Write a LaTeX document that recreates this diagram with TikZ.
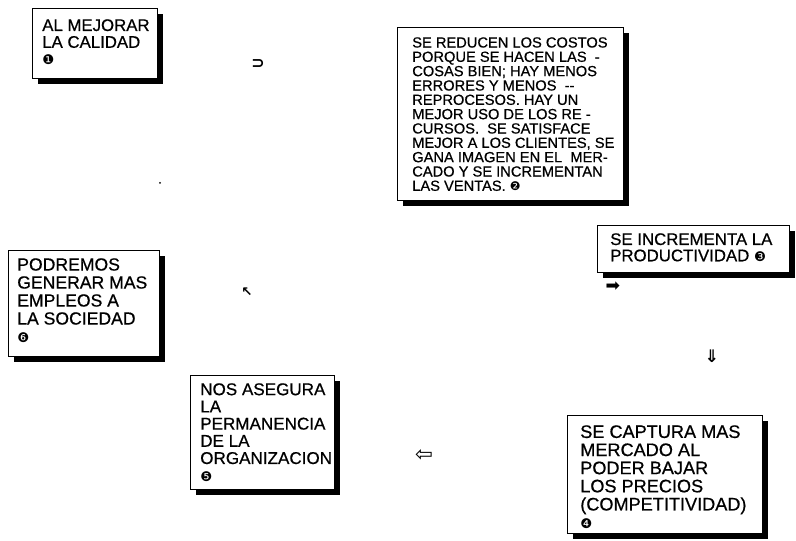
\documentclass[tikz,border=0pt]{standalone}
\usepackage{fontspec}
\setmainfont[FakeBold=0.6]{Liberation Sans}
\newfontfamily\dingfont{DejaVu Sans}
\usetikzlibrary{shadows}
\begin{document}
\begin{tikzpicture}[x=0.75pt,y=-0.75pt,
  card/.style={draw=black, line width=1pt, fill=white, anchor=north west, inner sep=0pt,
    drop shadow={shadow xshift=4pt, shadow yshift=-4pt, fill=black, opacity=1}},
  bigtext/.style={anchor=north west, inner sep=0pt, align=left, font=\fontsize{13.2}{13.5}\selectfont},
  smalltext/.style={anchor=north west, inner sep=0pt, align=left, font=\fontsize{11}{10.75}\selectfont},
  glyph/.style={inner sep=0pt, font=\dingfont\fontsize{12}{12}\selectfont}
]
\useasboundingbox (0,0) rectangle (796,541);
\fill[white] (0,0) rectangle (796,541);

% boxes
\node[card, minimum width=93.75pt, minimum height=52.5pt] (b1) at (32,8) {};
\node[card, minimum width=169.5pt, minimum height=129.75pt] (b2) at (397,27) {};
\node[card, minimum width=144pt, minimum height=35pt] (b3) at (597,225) {};
\node[card, minimum width=113.25pt, minimum height=79.5pt] (b4) at (8,250) {};
\node[card, minimum width=108pt, minimum height=85.5pt] (b5) at (190,375) {};
\node[card, minimum width=146.25pt, minimum height=88.5pt] (b6) at (567,415) {};

% texts
\node[bigtext, font=\fontsize{12.6}{12.6}\selectfont] (t1) at (42,19) {AL MEJORAR\\LA CALIDAD\\{\dingfont\fontsize{10}{10}\selectfont ❶}};
\node[smalltext] (t2) at (412,37) {SE REDUCEN LOS COSTOS\\PORQUE SE HACEN LAS \ -\\COSAS BIEN; HAY MENOS\\ERRORES Y MENOS \ -{}-\\REPROCESOS. HAY UN\\MEJOR USO DE LOS RE -\\CURSOS. \ SE SATISFACE\\MEJOR A LOS CLIENTES, SE\\GANA IMAGEN EN EL \ MER-\\CADO Y SE INCREMENTAN\\LAS VENTAS. {\dingfont\fontsize{9}{9}\selectfont ❷}};
\node[bigtext, font=\fontsize{12.6}{12.2}\selectfont] (t3) at (610,233) {SE INCREMENTA LA\\PRODUCTIVIDAD {\dingfont\fontsize{10}{10}\selectfont ❸}};
\node[bigtext] (t4) at (17,258) {PODREMOS\\GENERAR MAS\\EMPLEOS A\\LA SOCIEDAD\\{\dingfont\fontsize{10}{10}\selectfont ❻}};
\node[bigtext, font=\fontsize{12.8}{12.9}\selectfont] (t5) at (200,383) {NOS ASEGURA\\LA\\PERMANENCIA\\DE LA\\ORGANIZACION\\{\dingfont\fontsize{10}{10}\selectfont ❺}};
\node[bigtext, font=\fontsize{13.6}{13.6}\selectfont] (t6) at (580,425) {SE CAPTURA MAS\\MERCADO AL\\PODER BAJAR\\LOS PRECIOS\\(COMPETITIVIDAD)\\{\dingfont\fontsize{10}{10}\selectfont ❹}};

% stray arrow glyphs
\node[glyph, font=\dingfont\bfseries\fontsize{12}{12}\selectfont] (g1) at (258,64) {⊃};
\node[glyph, font=\dingfont\fontsize{13}{13}\selectfont] (g2) at (613,287) {➡};
\node[glyph, font=\dingfont\bfseries\fontsize{13}{13}\selectfont] (g3) at (712,356) {⇓};
\node[glyph, font=\dingfont\fontsize{16}{16}\selectfont] (g4) at (424,456) {⇦};
\node[glyph, font=\dingfont\bfseries\fontsize{10}{10}\selectfont] (g5) at (247,292) {↖};
\fill (160,183) circle (1);
\end{tikzpicture}
\end{document}
